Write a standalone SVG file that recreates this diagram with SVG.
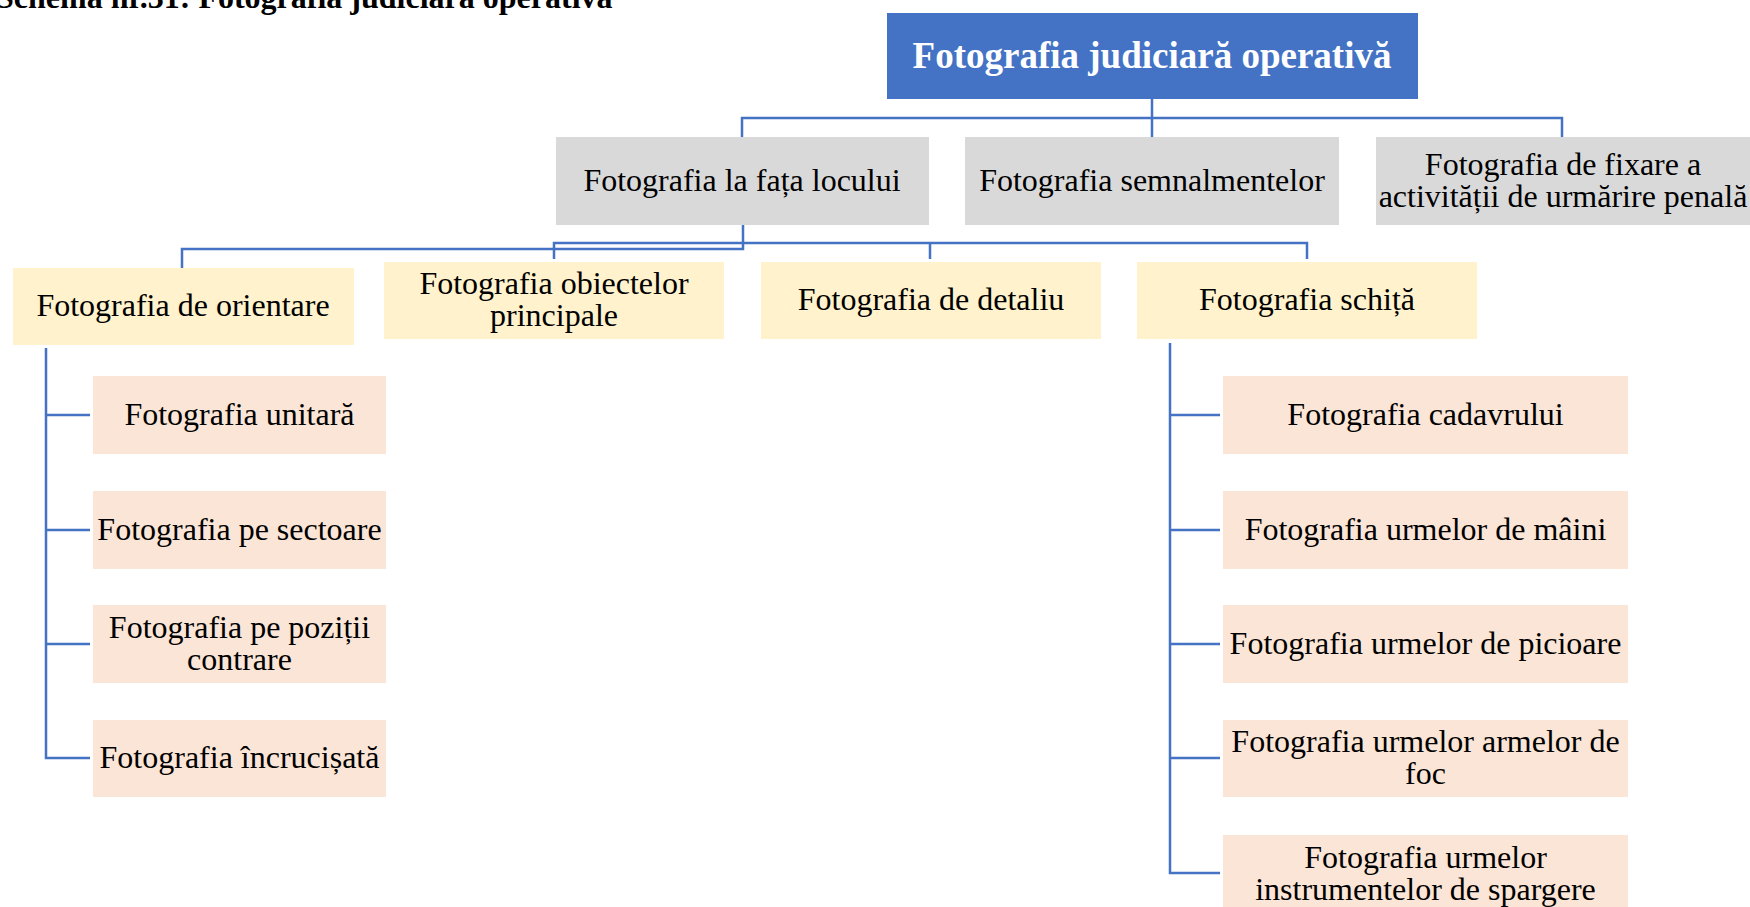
<svg xmlns="http://www.w3.org/2000/svg" width="1750" height="907" viewBox="0 0 1750 907">
<style>
.t{font-family:"Liberation Serif","Times New Roman",serif;font-size:32px;fill:#000;text-anchor:middle}
.root{fill:#4472C4}
.gray{fill:#D9D9D9}
.yel{fill:#FFF2CC}
.peach{fill:#FBE5D6}
.conn{fill:none;stroke:#4472C4;stroke-width:2.5}
.title{font-family:"Liberation Serif","Times New Roman",serif;font-size:32px;font-weight:bold;fill:#000}
</style>
<rect width="1750" height="907" fill="#fff"/>
<text class="title" x="-4" y="8">Schema nr.31: Fotografia judiciară operativă</text>
<g id="connectors">
<path class="conn" d="M1152 99 V137 M742 137 V118 H1562 V137"/>
<path class="conn" d="M743 225 V249 H182 V268"/>
<path class="conn" d="M554 259 V243 H1307 V259 M930 243 V259"/>
<path class="conn" d="M46 348 V758 H90 M46 415 H90 M46 530 H90 M46 644 H90"/>
<path class="conn" d="M1170 343 V873 H1220 M1170 415 H1220 M1170 530 H1220 M1170 644 H1220 M1170 758 H1220"/>
</g>
<g id="root"><rect class="root" x="887" y="13" width="531" height="86"/><text class="t" x="1152" y="68" style="font-size:37px;font-weight:bold;fill:#fff">Fotografia judiciară operativă</text></g>
<g id="fata-locului"><rect class="gray" x="556" y="137" width="373" height="88"/><text class="t" x="742" y="191">Fotografia la fața locului</text></g>
<g id="semnalmente"><rect class="gray" x="965" y="137" width="374" height="88"/><text class="t" x="1152" y="191">Fotografia semnalmentelor</text></g>
<g id="fixare"><rect class="gray" x="1376" y="137" width="374" height="88"/><text class="t" x="1563" y="175">Fotografia de fixare a</text><text class="t" x="1563" y="207">activității de urmărire penală</text></g>
<g id="orientare"><rect class="yel" x="13" y="268" width="341" height="77"/><text class="t" x="183" y="316">Fotografia de orientare</text></g>
<g id="obiectelor"><rect class="yel" x="384" y="262" width="340" height="77"/><text class="t" x="554" y="294">Fotografia obiectelor</text><text class="t" x="554" y="326">principale</text></g>
<g id="detaliu"><rect class="yel" x="761" y="262" width="340" height="77"/><text class="t" x="931" y="310">Fotografia de detaliu</text></g>
<g id="schita"><rect class="yel" x="1137" y="262" width="340" height="77"/><text class="t" x="1307" y="310">Fotografia schiță</text></g>
<g id="unitara"><rect class="peach" x="93" y="376" width="293" height="78"/><text class="t" x="239.5" y="425">Fotografia unitară</text></g>
<g id="sectoare"><rect class="peach" x="93" y="491" width="293" height="78"/><text class="t" x="239.5" y="540">Fotografia pe sectoare</text></g>
<g id="pozitii"><rect class="peach" x="93" y="605" width="293" height="78"/><text class="t" x="239.5" y="638">Fotografia pe poziții</text><text class="t" x="239.5" y="670">contrare</text></g>
<g id="incrucisata"><rect class="peach" x="93" y="720" width="293" height="77"/><text class="t" x="239.5" y="768">Fotografia încrucișată</text></g>
<g id="cadavru"><rect class="peach" x="1223" y="376" width="405" height="78"/><text class="t" x="1425.5" y="425">Fotografia cadavrului</text></g>
<g id="maini"><rect class="peach" x="1223" y="491" width="405" height="78"/><text class="t" x="1425.5" y="540">Fotografia urmelor de mâini</text></g>
<g id="picioare"><rect class="peach" x="1223" y="605" width="405" height="78"/><text class="t" x="1425.5" y="654">Fotografia urmelor de picioare</text></g>
<g id="arme"><rect class="peach" x="1223" y="720" width="405" height="77"/><text class="t" x="1425.5" y="752">Fotografia urmelor armelor de</text><text class="t" x="1425.5" y="784">foc</text></g>
<g id="spargere"><rect class="peach" x="1223" y="835" width="405" height="80"/><text class="t" x="1425.5" y="868">Fotografia urmelor</text><text class="t" x="1425.5" y="900">instrumentelor de spargere</text></g>
</svg>
